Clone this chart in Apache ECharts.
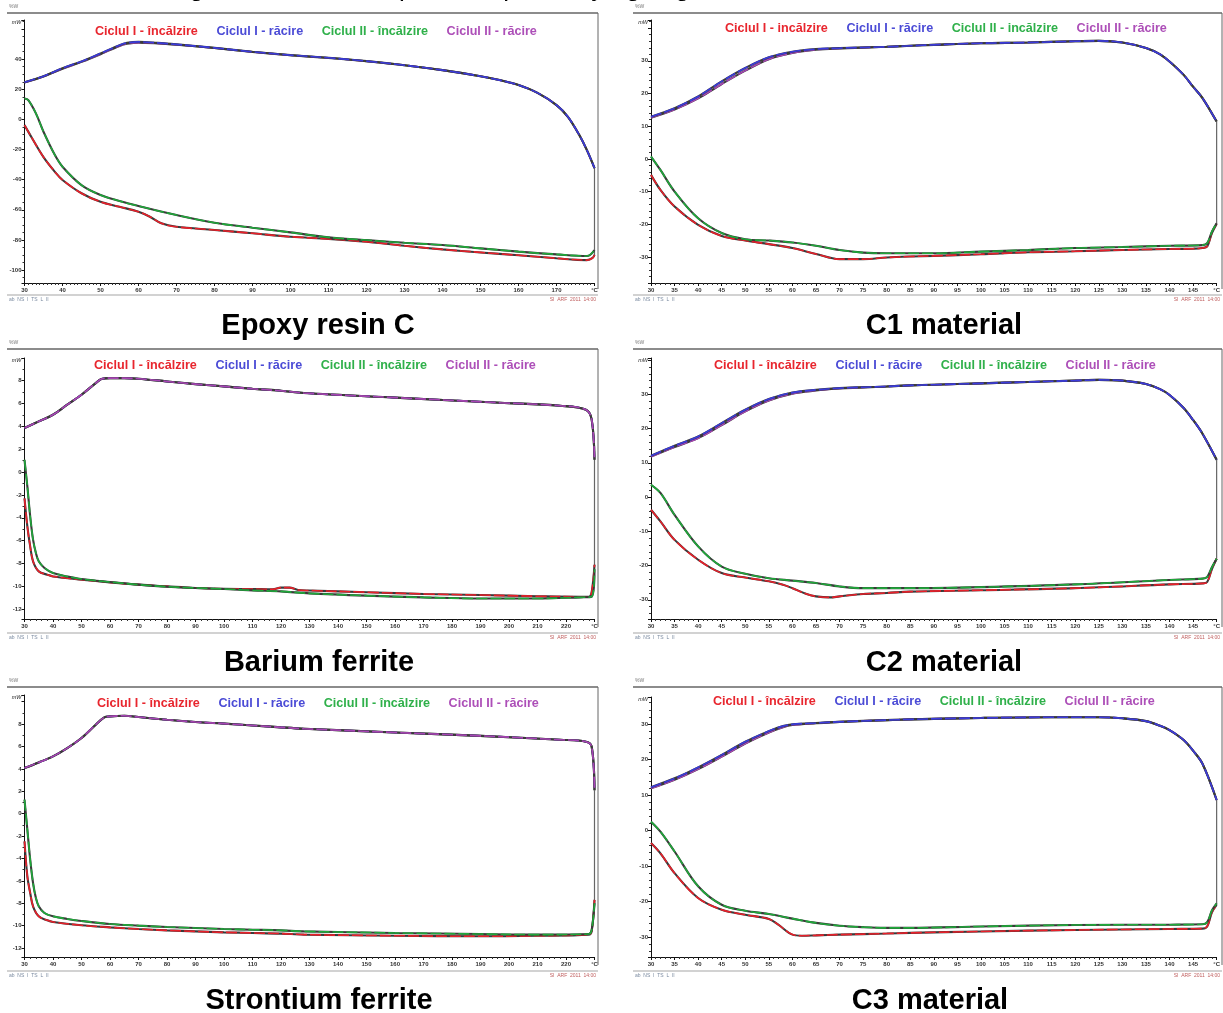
<!DOCTYPE html>
<html>
<head>
<meta charset="utf-8">
<script src="https://cdn.jsdelivr.net/npm/echarts@6/dist/echarts.min.js"></script>
<style>
  html, body { margin: 0; padding: 0; background: #ffffff; }
  #chart { width: 1223px; height: 1013px; }
</style>
</head>
<body>
<div id="chart"></div>
<script>
// ---- Legend labels ----
const legendNames = ['Ciclul I - încălzire', 'Ciclul I - răcire', 'Ciclul II - încălzire', 'Ciclul II - răcire'];
const legendNamesC1 = ['Ciclul I - incălzire', 'Ciclul I - răcire', 'Ciclul II - incălzire', 'Ciclul II - răcire'];

// ---- Tick labels on the heat-flow axes (mW) ----
const epoxyYTicks = [-100, -80, -60, -40, -20, 0, 20, 40];
const c1YTicks = [-30, -20, -10, 0, 10, 20, 30];
const bariumYTicks = [-12, -10, -8, -6, -4, -2, 0, 2, 4, 6, 8];
const c2YTicks = [-30, -20, -10, 0, 10, 20, 30];
const strontiumYTicks = [-12, -10, -8, -6, -4, -2, 0, 2, 4, 6, 8];
const c3YTicks = [-30, -20, -10, 0, 10, 20, 30];

// ---- Epoxy resin C : [temperature °C, heat flow mW] ----
const epoxyHeat1 = [[30,-3.8],[32,-12.5],[35,-25],[38,-34.8],[40,-40.2],[45,-49],[50,-54.7],[55,-58],[60,-61.3],[63,-64.6],[66,-69],[70,-71.3],[80,-73.4],[90,-75.6],[100,-77.9],[110,-79.3],[120,-81.2],[130,-83.9],[140,-86.3],[150,-88.3],[160,-90.2],[170,-92.2],[178,-93.4],[179.5,-92],[180,-90]];
const epoxyCool1 = [[30,24.7],[35,28.7],[40,34],[45,38.5],[50,43.8],[55,49.3],[57,50.8],[60,51.5],[65,50.8],[70,49.8],[80,47.5],[90,44.9],[100,42.7],[110,40.9],[120,38.7],[130,36],[140,32.7],[150,28.7],[155,26.1],[160,22.8],[165,17.6],[170,9.5],[173,1.7],[176,-10.4],[178,-20.4],[180,-32.3]];
const epoxyHeat2 = [[30,13.9],[31,12.8],[33,4],[35,-8.2],[38,-23.7],[40,-31.4],[45,-43.6],[50,-50.2],[55,-54.2],[60,-57.5],[70,-63.5],[80,-68.6],[90,-71.9],[100,-75],[110,-78.3],[120,-80.1],[130,-81.9],[140,-83.4],[150,-85.6],[160,-87.8],[170,-89.6],[178,-90.7],[180,-86.7]];
const epoxyCool2 = [[30,24.5],[35,28.5],[40,33.7],[45,38.2],[50,43.3],[55,48.8],[57,50.2],[60,51],[65,50.5],[70,49.6],[80,47.4],[90,44.8],[100,42.6],[110,40.8],[120,38.6],[130,36],[140,32.7],[150,28.7],[155,26.1],[160,22.8],[165,17.6],[170,9.5],[173,1.7],[176,-10.4],[178,-20.4],[180,-32.3]];

// ---- C1 material ----
const c1Heat1 = [[30,-4.9],[32,-9.5],[35,-14.6],[40,-20.2],[45,-23.6],[50,-25],[55,-26.1],[60,-27.3],[65,-29.1],[70,-30.7],[75,-30.7],[80,-30.2],[85,-29.9],[90,-29.7],[100,-29.2],[110,-28.6],[120,-28.3],[130,-27.9],[140,-27.6],[145,-27.5],[147,-27.3],[148,-26.8],[149,-22.7],[150,-19.9]];
const c1Cool1 = [[30,12.9],[35,15.5],[40,19.1],[45,23.7],[50,27.8],[55,31.1],[60,32.8],[65,33.6],[70,33.9],[80,34.3],[85,34.6],[90,34.9],[100,35.4],[110,35.6],[120,36],[125,36.1],[130,35.6],[135,33.9],[138,32],[140,29.8],[143,25.7],[145,22.1],[147,18.6],[150,11.4]];
const c1Heat2 = [[30,0.7],[32,-3.4],[35,-10],[40,-18.2],[45,-22.7],[50,-24.6],[55,-25],[60,-25.6],[65,-26.6],[70,-27.9],[75,-28.7],[80,-28.9],[90,-28.9],[100,-28.4],[110,-27.9],[120,-27.3],[130,-27],[140,-26.6],[147,-26.4],[148,-25.8],[149,-22.3],[150,-19.7]];
const c1Cool2 = [[30,12.6],[35,15.1],[40,18.5],[45,22.9],[50,27],[55,30.5],[60,32.4],[65,33.4],[70,33.8],[80,34.3],[85,34.6],[90,34.9],[100,35.4],[110,35.6],[120,36],[125,36.1],[130,35.6],[135,33.9],[138,32],[140,29.8],[143,25.7],[145,22.1],[147,18.6],[150,11.4]];

// ---- Barium ferrite ----
const bariumHeat1 = [[30,-2.3],[31,-4.75],[32,-6.5],[33,-7.8],[35,-8.68],[38,-8.97],[40,-9.12],[50,-9.4],[60,-9.64],[70,-9.84],[80,-9.99],[90,-10.13],[100,-10.2],[110,-10.22],[117,-10.25],[120,-10.1],[123,-10.1],[126,-10.3],[130,-10.35],[150,-10.5],[170,-10.65],[190,-10.75],[210,-10.85],[225,-10.9],[228,-10.9],[229,-10.5],[230,-8.1]];
const bariumCool1 = [[30,3.84],[35,4.42],[40,5],[45,5.88],[50,6.75],[55,7.77],[57,8.12],[60,8.2],[65,8.2],[70,8.15],[80,7.91],[90,7.68],[100,7.48],[110,7.27],[120,7.1],[128,6.9],[160,6.5],[197,6.05],[218,5.79],[227,5.44],[229,4.6],[230,1.07]];
const bariumHeat2 = [[30,1.07],[31,-1.26],[32,-3.88],[33,-5.91],[34,-7.07],[35,-7.8],[37,-8.38],[40,-8.82],[45,-9.12],[50,-9.35],[60,-9.61],[70,-9.84],[80,-10.02],[90,-10.13],[100,-10.22],[110,-10.34],[120,-10.43],[130,-10.6],[150,-10.8],[170,-10.95],[190,-11.05],[210,-11.05],[225,-10.95],[229,-10.9],[230,-8.5]];
const bariumCool2 = [[30,3.84],[35,4.42],[40,5],[45,5.88],[50,6.75],[55,7.77],[57,8.12],[60,8.2],[65,8.2],[70,8.15],[80,7.91],[90,7.68],[100,7.48],[110,7.27],[120,7.1],[128,6.9],[160,6.5],[197,6.05],[218,5.79],[227,5.44],[229,4.6],[230,1.07]];

// ---- C2 material ----
const c2Heat1 = [[30,-3.7],[32,-7.1],[35,-12.5],[40,-18.3],[45,-22.2],[50,-23.5],[55,-24.6],[58,-25.6],[60,-26.6],[63,-28.3],[65,-29],[68,-29.3],[70,-29],[75,-28.3],[80,-28],[85,-27.6],[100,-27.2],[120,-26.6],[140,-25.5],[147,-25.2],[148,-24.8],[149,-21],[150,-18]];
const c2Cool1 = [[30,12.06],[35,15],[40,17.7],[45,21.6],[50,25.5],[55,28.6],[60,30.5],[65,31.3],[70,31.8],[80,32.3],[85,32.6],[90,32.8],[100,33.2],[110,33.6],[120,34],[125,34.2],[130,34],[135,33],[138,31.5],[140,29.8],[143,26],[145,22.5],[147,18.5],[150,10.9]];
const c2Heat2 = [[30,3.6],[32,1.2],[35,-5.2],[40,-14.4],[45,-20.3],[50,-22.4],[55,-23.7],[60,-24.4],[65,-25.1],[70,-26.1],[75,-26.6],[85,-26.6],[100,-26.3],[120,-25.5],[140,-24.2],[147,-23.8],[148,-23.3],[149,-20.5],[150,-18]];
const c2Cool2 = [[30,11.8],[35,14.6],[40,17.2],[45,21],[50,25],[55,28.2],[60,30.2],[65,31.1],[70,31.7],[80,32.3],[85,32.6],[90,32.8],[100,33.2],[110,33.6],[120,34],[125,34.2],[130,34],[135,33],[138,31.5],[140,29.8],[143,26],[145,22.5],[147,18.5],[150,10.9]];

// ---- Strontium ferrite ----
const strontiumHeat1 = [[30,-2.47],[31,-5.6],[32,-7.08],[33,-8.27],[35,-9.17],[38,-9.52],[40,-9.67],[50,-9.97],[60,-10.15],[70,-10.3],[80,-10.42],[90,-10.51],[100,-10.6],[110,-10.65],[120,-10.71],[128,-10.8],[160,-10.9],[190,-10.95],[210,-10.9],[228,-10.8],[229,-10.5],[230,-7.7]];
const strontiumCool1 = [[30,4.08],[35,4.58],[40,5.12],[45,5.86],[50,6.76],[55,7.95],[58,8.6],[60,8.69],[65,8.75],[70,8.63],[80,8.39],[90,8.19],[100,8.04],[110,7.88],[120,7.71],[128,7.59],[160,7.25],[190,6.95],[218,6.6],[227,6.43],[229,6],[230,2.1]];
const strontiumHeat2 = [[30,1.25],[31,-1.43],[32,-4.1],[33,-6.19],[34,-7.53],[35,-8.27],[37,-8.87],[40,-9.17],[45,-9.4],[50,-9.58],[60,-9.85],[70,-10],[80,-10.12],[90,-10.21],[100,-10.3],[110,-10.36],[120,-10.42],[128,-10.51],[160,-10.65],[190,-10.75],[210,-10.8],[228,-10.75],[229,-10.4],[230,-8]];
const strontiumCool2 = [[30,4.08],[35,4.58],[40,5.12],[45,5.86],[50,6.76],[55,7.95],[58,8.6],[60,8.69],[65,8.75],[70,8.63],[80,8.39],[90,8.19],[100,8.04],[110,7.88],[120,7.71],[128,7.59],[160,7.25],[190,6.95],[218,6.6],[227,6.43],[229,6],[230,2.1]];

// ---- C3 material ----
const c3Heat1 = [[30,-3.5],[32,-6.4],[35,-12],[40,-19],[45,-22.3],[50,-23.7],[55,-24.9],[57,-26.5],[60,-29.3],[62,-29.6],[65,-29.5],[70,-29.3],[80,-29],[85,-28.8],[100,-28.4],[120,-28],[140,-27.7],[147,-27.6],[148,-27],[149,-23],[150,-20.9]];
const c3Cool1 = [[30,12.2],[35,14.7],[40,17.8],[45,21.3],[50,25],[55,28],[58,29.4],[60,29.9],[65,30.3],[70,30.6],[80,31.1],[85,31.3],[100,31.7],[115,31.9],[125,31.9],[130,31.6],[135,30.8],[138,29.5],[140,28.3],[143,25.5],[145,22.5],[147,18.8],[150,8.6]];
const c3Heat2 = [[30,2.5],[32,-0.3],[35,-5.9],[40,-15.7],[45,-20.9],[50,-22.6],[55,-23.5],[60,-24.8],[65,-26],[70,-26.8],[75,-27.2],[80,-27.4],[85,-27.4],[100,-27],[120,-26.6],[140,-26.5],[147,-26.4],[148,-25.8],[149,-22.5],[150,-20.5]];
const c3Cool2 = [[30,11.9],[35,14.3],[40,17.3],[45,20.8],[50,24.5],[55,27.6],[58,29.1],[60,29.7],[65,30.2],[70,30.6],[80,31.1],[85,31.3],[100,31.7],[115,31.9],[125,31.9],[130,31.6],[135,30.8],[138,29.5],[140,28.3],[143,25.5],[145,22.5],[147,18.8],[150,8.6]];

// ---- Panel layout ----
const FONT = '"Liberation Sans", Arial, Helvetica, sans-serif';
const lineColors = ['#e8202a', '#3b3bdc', '#1fa83a', '#a845b5'];
const textColors = ['#e8262e', '#4b4bd6', '#2fb04a', '#ad4fb8'];

const panels = [
  { caption: 'Epoxy resin C', capX: 318, capY: 326, col: 0, grid: [24.5, 20, 570, 263], frame: [13, 295],
    x: [30, 180, 10, 10], y: [-108.6, 66, 9, 4], yTicks: epoxyYTicks, names: legendNames, legend: [90, 25],
    heat1: epoxyHeat1, cool1: epoxyCool1, heat2: epoxyHeat2, cool2: epoxyCool2, coolTop: 'blue' },
  { caption: 'C1 material', capX: 944, capY: 326, col: 1, grid: [651, 20, 568, 263], frame: [13, 295],
    x: [30, 150, 5, 5], y: [-38, 42.5, 8, 5], yTicks: c1YTicks, names: legendNamesC1, legend: [720, 22],
    heat1: c1Heat1, cool1: c1Cool1, heat2: c1Heat2, cool2: c1Cool2, coolTop: 'blue' },
  { caption: 'Barium ferrite', capX: 319, capY: 663, col: 0, grid: [24.5, 358, 570, 261], frame: [349, 633],
    x: [30, 230, 10, 5], y: [-12.84, 9.96, 11, 2], yTicks: bariumYTicks, names: legendNames, legend: [89, 359],
    heat1: bariumHeat1, cool1: bariumCool1, heat2: bariumHeat2, cool2: bariumCool2, coolTop: 'purple' },
  { caption: 'C2 material', capX: 944, capY: 663, col: 1, grid: [651, 358, 568, 261], frame: [349, 633],
    x: [30, 150, 5, 5], y: [-35.6, 40.6, 8, 5], yTicks: c2YTicks, names: legendNames, legend: [709, 359],
    heat1: c2Heat1, cool1: c2Cool1, heat2: c2Heat2, cool2: c2Cool2, coolTop: 'blue' },
  { caption: 'Strontium ferrite', capX: 319, capY: 1001, col: 0, grid: [24.5, 695, 570, 262], frame: [687, 971],
    x: [30, 230, 10, 5], y: [-12.8, 10.6, 11, 2], yTicks: strontiumYTicks, names: legendNames, legend: [92, 697],
    heat1: strontiumHeat1, cool1: strontiumCool1, heat2: strontiumHeat2, cool2: strontiumCool2, coolTop: 'purple' },
  { caption: 'C3 material', capX: 930, capY: 1001, col: 1, grid: [651, 697, 568, 260], frame: [687, 971],
    x: [30, 150, 5, 5], y: [-35.6, 37.6, 7, 5], yTicks: c3YTicks, names: legendNames, legend: [708, 695],
    heat1: c3Heat1, cool1: c3Cool1, heat2: c3Heat2, cool2: c3Cool2, coolTop: 'blue' }
];

const colEdges = [[7, 598], [633, 1222]];

const grids = [], xAxes = [], yAxes = [], legends = [], series = [], graphics = [];

function txt(x, y, text, font, fill, align, vAlign) {
  return { type: 'text', x: x, y: y, silent: true,
    style: { text: text, font: font, fill: fill, align: align || 'left', verticalAlign: vAlign || 'middle',
             textAlign: align || 'left', textVerticalAlign: vAlign || 'middle' } };
}
function seg(x1, y1, x2, y2, stroke, w) {
  return { type: 'line', silent: true, shape: { x1: x1, y1: y1, x2: x2, y2: y2 },
    style: { stroke: stroke, lineWidth: w } };
}

panels.forEach(function (p, i) {
  const [gl, gt, gw, gh] = p.grid;
  const [xMin, xMax, xStep, xMinor] = p.x;
  const [yMin, yMax, ySplit, yMinor] = p.y;
  const [cl, cr] = colEdges[p.col];

  grids.push({ left: gl, top: gt, width: gw, height: gh });

  xAxes.push({
    type: 'value', gridIndex: i, min: xMin, max: xMax, interval: xStep,
    axisLine: { show: true, onZero: false, lineStyle: { color: '#111', width: 1 } },
    axisTick: { show: true, length: 3, lineStyle: { color: '#111', width: 1 } },
    minorTick: { show: true, splitNumber: xMinor, length: 2, lineStyle: { color: '#333', width: 1 } },
    splitLine: { show: false }, minorSplitLine: { show: false },
    axisLabel: { show: true, interval: 0, fontSize: 6, fontWeight: 'bold', fontFamily: FONT, color: '#333', margin: 4,
      showMinLabel: true, showMaxLabel: true,
      formatter: function (v) { return Math.abs(v - xMax) < 1e-6 ? '°C' : String(Math.round(v)); } }
  });

  yAxes.push({
    type: 'value', gridIndex: i, min: yMin, max: yMax, splitNumber: ySplit,
    axisLine: { show: true, onZero: false, lineStyle: { color: '#111', width: 1 } },
    axisTick: { show: true, length: 3, lineStyle: { color: '#111', width: 1 } },
    minorTick: { show: true, splitNumber: yMinor, length: 2, lineStyle: { color: '#333', width: 1 } },
    splitLine: { show: false }, minorSplitLine: { show: false },
    axisLabel: { show: true, fontSize: 6, fontWeight: 'bold', fontFamily: FONT, color: '#333', margin: 3,
      formatter: function (v) {
        return p.yTicks.some(function (t) { return Math.abs(t - v) < 1e-6; }) ? String(Math.round(v)) : '';
      } }
  });

  legends.push({
    left: p.legend[0], top: p.legend[1], orient: 'horizontal', icon: 'none',
    itemWidth: 0, itemHeight: 0, itemGap: 13.5, padding: 0, selectedMode: false,
    textStyle: { fontSize: 12.6, fontWeight: 'bold', fontFamily: FONT },
    data: p.names.map(function (n, k) { return { name: n, textStyle: { color: textColors[k] } }; })
  });

  // vertical step between the end of heating and the start of cooling
  const hEnd = Math.min(p.heat1[p.heat1.length - 1][1], p.heat2[p.heat2.length - 1][1]);
  const cStart = p.cool1[p.cool1.length - 1][1];
  series.push({
    type: 'line', name: 'link', xAxisIndex: i, yAxisIndex: i, data: [[xMax, hEnd], [xMax, cStart]],
    showSymbol: false, silent: true, animation: false, lineStyle: { color: '#666', width: 1.2 }, z: 1
  });

  const curves = { heat1: [p.heat1, 0], cool1: [p.cool1, 1], heat2: [p.heat2, 2], cool2: [p.cool2, 3] };
  const order = p.coolTop === 'blue' ? ['heat1', 'heat2', 'cool2', 'cool1'] : ['heat1', 'heat2', 'cool1', 'cool2'];
  order.forEach(function (key, j) {
    const [data, k] = curves[key];
    series.push({
      type: 'line', name: 'base', xAxisIndex: i, yAxisIndex: i, data: data, smooth: 0.35,
      showSymbol: false, silent: true, animation: false, z: 2 + j * 2,
      lineStyle: { color: '#3a3a3a', width: 2.1 }
    });
    series.push({
      type: 'line', name: p.names[k], xAxisIndex: i, yAxisIndex: i, data: data, smooth: 0.35,
      showSymbol: false, silent: true, animation: false, z: 3 + j * 2, color: lineColors[k],
      lineStyle: { color: lineColors[k], width: 1.6, type: [11, 3] }
    });
  });

  // panel frame and captions
  graphics.push(seg(cl, p.frame[0], cr, p.frame[0], '#8c8c8c', 2));
  graphics.push(seg(cr, p.frame[0], cr, p.frame[1] - 6, '#666', 1));
  graphics.push(seg(cl, p.frame[1], cr, p.frame[1], '#d2d2d2', 2));
  graphics.push(txt(cl + 2, p.frame[0] - 6, '%W', '5px ' + FONT, '#777'));
  graphics.push(txt(gl - 3, gt + 2, 'mW', 'italic 5.5px ' + FONT, '#222', 'right'));
  graphics.push(txt(cl + 2, p.frame[1] + 5, 'ab  NS  I  TS  L  II', '5px ' + FONT, '#7a8aa0'));
  graphics.push(txt(cr - 2, p.frame[1] + 5, 'SI  ARF  2011  14:00', '5px ' + FONT, '#c06060', 'right'));
  graphics.push(txt(p.capX, p.capY, p.caption, 'bold 29px ' + FONT, '#000', 'center'));
});

// figure caption line running off the top edge (only its descenders stay on the page)
graphics.push(txt(100, -11.5, 'Thermograms for the samples compared by ageing', '26px ' + FONT, '#000', 'left', 'middle'));

const chart = echarts.init(document.getElementById('chart'), null, { renderer: 'canvas' });
chart.setOption({
  animation: false,
  backgroundColor: '#ffffff',
  grid: grids,
  xAxis: xAxes,
  yAxis: yAxes,
  legend: legends,
  series: series,
  graphic: { elements: graphics }
});
</script>
</body>
</html>
